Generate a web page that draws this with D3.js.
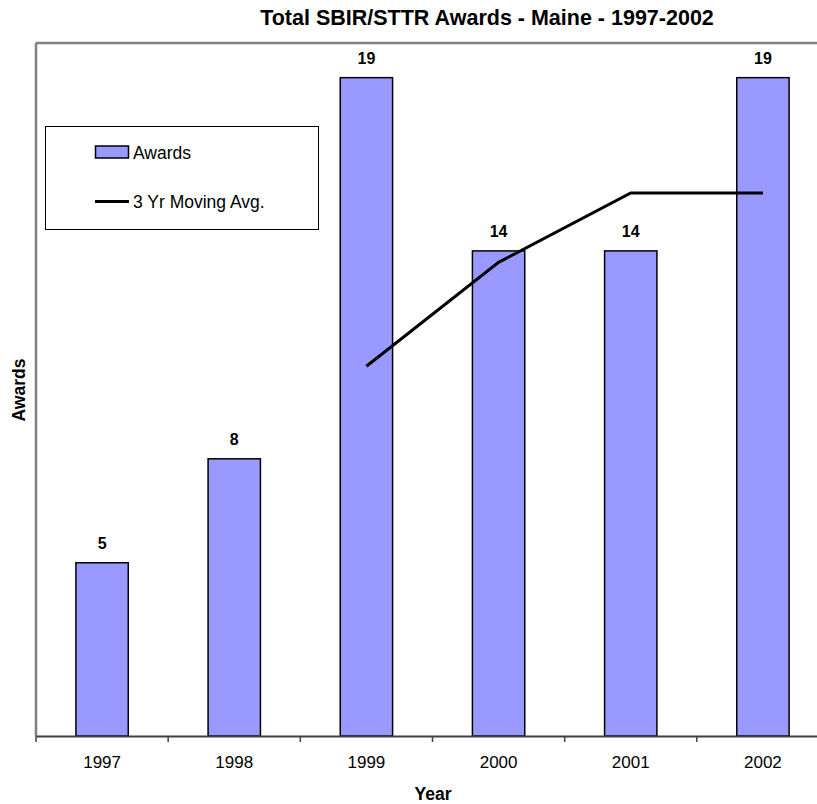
<!DOCTYPE html>
<html>
<head>
<meta charset="utf-8">
<script src="https://cdn.jsdelivr.net/npm/d3@7"></script>
<style>
  body { margin: 0; background: #fff; }
  svg { display: block; font-family: Arial, "Liberation Sans", sans-serif; }
</style>
</head>
<body>
<svg id="chart" width="817" height="804"></svg>
<script>
const years = ["1997", "1998", "1999", "2000", "2001", "2002"];
const awards = [5, 8, 19, 14, 14, 19];
const movingAvg = [null, null, 10.67, 13.67, 15.67, 15.67];
const yDomain = [0, 20];
const titleText = "Total SBIR/STTR Awards - Maine - 1997-2002";
const xLabel = "Year";
const yLabel = "Awards";
const legendLabels = ["Awards", "3 Yr Moving Avg."];

const FONT = "Arial, 'Liberation Sans', sans-serif";
const svg = d3.select("#chart");
const plot = { left: 36, right: 829, top: 43, bottom: 736 };

const x = d3.scaleBand().domain(years).range([plot.left, plot.right]).padding(0);
const y = d3.scaleLinear().domain(yDomain).range([plot.bottom, plot.top]);
const barW = x.bandwidth() * 0.396;

// plot frame: left and top gray borders
svg.append("line").attr("x1", plot.left).attr("x2", plot.left)
  .attr("y1", plot.top).attr("y2", plot.bottom)
  .attr("stroke", "#808080").attr("stroke-width", 2.5);
svg.append("line").attr("x1", plot.left).attr("x2", 817)
  .attr("y1", plot.top).attr("y2", plot.top)
  .attr("stroke", "#808080").attr("stroke-width", 2.5);

// bars
svg.append("g").selectAll("rect").data(awards).join("rect")
  .attr("x", (d, i) => x(years[i]) + x.bandwidth() / 2 - barW / 2)
  .attr("y", d => y(d))
  .attr("width", barW)
  .attr("height", d => y(0) - y(d))
  .attr("fill", "#9999FF")
  .attr("stroke", "#000")
  .attr("stroke-width", 1.5);

// value labels
svg.append("g").selectAll("text").data(awards).join("text")
  .attr("x", (d, i) => x(years[i]) + x.bandwidth() / 2)
  .attr("y", d => y(d) - 14)
  .attr("text-anchor", "middle")
  .attr("font-size", 16).attr("font-weight", "bold")
  .text(d => d);

// x axis
const xAxis = d3.axisBottom(x).tickSize(0).tickPadding(32);
const gx = svg.append("g").attr("transform", `translate(0,${plot.bottom})`).call(xAxis);
gx.select(".domain").attr("stroke", "#404040").attr("stroke-width", 2);
gx.selectAll("text").attr("font-size", 17).attr("font-family", FONT)
  .attr("fill", "#000").attr("dy", "0");
// boundary ticks between categories
const tickPos = years.map(yr => x(yr));
svg.append("g").selectAll("line").data(tickPos).join("line")
  .attr("x1", d => d).attr("x2", d => d)
  .attr("y1", plot.bottom).attr("y2", plot.bottom + 6)
  .attr("stroke", "#404040").attr("stroke-width", 1.5);

// moving average line
const line = d3.line()
  .defined(d => d.v != null)
  .x(d => x(d.year) + x.bandwidth() / 2)
  .y(d => y(d.v));
svg.append("path")
  .datum(years.map((yr, i) => ({ year: yr, v: movingAvg[i] })))
  .attr("d", line)
  .attr("fill", "none")
  .attr("stroke", "#000")
  .attr("stroke-width", 3);

// title
svg.append("text").attr("x", 487).attr("y", 25)
  .attr("text-anchor", "middle").attr("font-size", 21.5).attr("font-weight", "bold")
  .text(titleText);

// axis titles
svg.append("text").attr("x", 433).attr("y", 800)
  .attr("text-anchor", "middle").attr("font-size", 17.5).attr("font-weight", "bold")
  .text(xLabel);
svg.append("text").attr("transform", "translate(25,390) rotate(-90)")
  .attr("text-anchor", "middle").attr("font-size", 17.5).attr("font-weight", "bold")
  .text(yLabel);

// legend
const lg = svg.append("g");
lg.append("rect").attr("x", 45.5).attr("y", 126.5).attr("width", 273).attr("height", 103)
  .attr("fill", "#fff").attr("stroke", "#000").attr("stroke-width", 1);
lg.append("rect").attr("x", 95.5).attr("y", 146).attr("width", 33).attr("height", 12)
  .attr("fill", "#9999FF").attr("stroke", "#000").attr("stroke-width", 1.5);
lg.append("text").attr("x", 133).attr("y", 159).attr("font-size", 17.5).text(legendLabels[0]);
lg.append("line").attr("x1", 95).attr("x2", 129).attr("y1", 201.5).attr("y2", 201.5)
  .attr("stroke", "#000").attr("stroke-width", 3);
lg.append("text").attr("x", 133).attr("y", 207.5).attr("font-size", 17.5).text(legendLabels[1]);
</script>
</body>
</html>
